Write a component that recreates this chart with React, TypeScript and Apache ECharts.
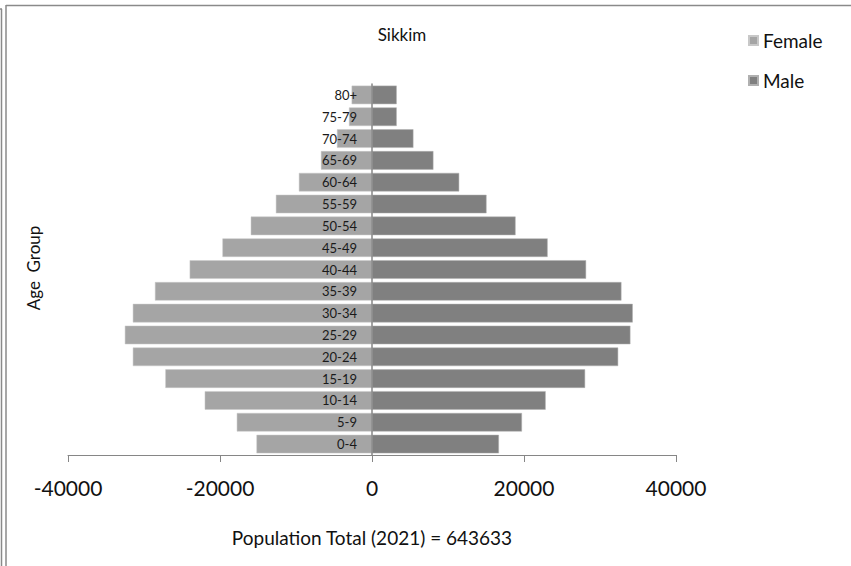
import React, { useEffect, useRef } from "react";
import * as echarts from "echarts";

const ageGroups = ["0-4", "5-9", "10-14", "15-19", "20-24", "25-29", "30-34", "35-39", "40-44", "45-49", "50-54", "55-59", "60-64", "65-69", "70-74", "75-79", "80+"];
const female = [15200, 17790, 22010, 27190, 31470, 32520, 31470, 28560, 23990, 19680, 15950, 12650, 9620, 6720, 4610, 3030, 2680];
const male = [16700, 19730, 22850, 28040, 32390, 34000, 34310, 32820, 28170, 23110, 18890, 15070, 11470, 8080, 5450, 3250, 3250];
const xTicks = [-40000, -20000, 0, 20000, 40000];
const titleText = "Sikkim";
const xName = "Population Total (2021) = 643633";
const yName = "Age  Group";

const FONT = "Lato, 'Open Sans', sans-serif";

export default function App() {
  const ref = useRef<HTMLDivElement>(null);
  useEffect(() => {
    document.body.style.margin = "0";
    if (!ref.current) return;
    const chart = echarts.init(ref.current, null, { renderer: "svg" });
    const border = "#8a8a8a";
    const gridLeft = 68;
    const gridRight = 175;
    const plotW = 851 - gridLeft - gridRight;
    const zeroOffset = plotW / 2;
    chart.setOption({
      animation: false,
      backgroundColor: "#ffffff",
      textStyle: { fontFamily: FONT },
      grid: { left: gridLeft, right: gridRight, top: 84, bottom: 111, containLabel: false },
      legend: {
        orient: "vertical",
        left: 743,
        top: 26,
        itemWidth: 9,
        itemHeight: 9,
        itemGap: 21,
        icon: "rect",
        textStyle: { fontFamily: FONT, fontSize: 19, color: "#111" },
        data: ["Female", "Male"],
      },
      xAxis: {
        type: "value",
        min: xTicks[0],
        max: xTicks[xTicks.length - 1],
        interval: xTicks[1] - xTicks[0],
        name: xName,
        nameLocation: "middle",
        nameGap: 73,
        nameTextStyle: { fontFamily: FONT, fontSize: 19, color: "#111" },
        axisLine: { show: true, lineStyle: { color: "#868686", width: 1 } },
        axisTick: { show: true, length: 7, lineStyle: { color: "#868686" } },
        axisLabel: {
          fontFamily: FONT,
          fontSize: 21,
          color: "#111",
          margin: 22,
          formatter: (v: number) => String(v),
        },
        splitLine: { show: false },
      },
      yAxis: {
        type: "category",
        data: ageGroups,
        z: 10,
        position: "left",
        offset: -zeroOffset,
        axisLine: { show: true, onZero: false, lineStyle: { color: "#868686", width: 1.5 } },
        axisTick: { show: false },
        axisLabel: { fontFamily: FONT, fontSize: 13, color: "#1a1a1a", margin: 15 },
        splitLine: { show: false },
      },
      series: [
        {
          name: "Female",
          type: "bar",
          stack: "pop",
          barCategoryGap: "15%",
          itemStyle: { color: "#a5a5a5", borderColor: "#c8c8c8", borderWidth: 0.5 },
          data: female.map((v) => -v),
        },
        {
          name: "Male",
          type: "bar",
          stack: "pop",
          barCategoryGap: "15%",
          itemStyle: { color: "#808080", borderColor: "#b0b0b0", borderWidth: 0.5 },
          data: male,
        },
      ],
      graphic: [
        {
          type: "text",
          x: 402,
          y: 34,
          style: { text: titleText, align: "center", verticalAlign: "middle", fontFamily: FONT, fontSize: 17, fill: "#111" },
        },
        {
          type: "text",
          x: 33,
          y: 268,
          rotation: Math.PI / 2,
          style: { text: yName, align: "center", verticalAlign: "middle", fontFamily: FONT, fontSize: 17, fill: "#111" },
        },
        { type: "line", shape: { x1: 6, y1: 5.5, x2: 851, y2: 5.5 }, style: { stroke: border, lineWidth: 1.5 } },
        { type: "line", shape: { x1: 6, y1: 5, x2: 6, y2: 566 }, style: { stroke: border, lineWidth: 1.5 } },
        { type: "line", shape: { x1: 1.5, y1: 9, x2: 1.5, y2: 566 }, style: { stroke: border, lineWidth: 1.5 } },
        { type: "line", shape: { x1: 0, y1: 9, x2: 2, y2: 9 }, style: { stroke: border, lineWidth: 1.5 } },
      ],
    });
    return () => chart.dispose();
  }, []);
  return <div ref={ref} style={{ width: 851, height: 566 }} />;
}
